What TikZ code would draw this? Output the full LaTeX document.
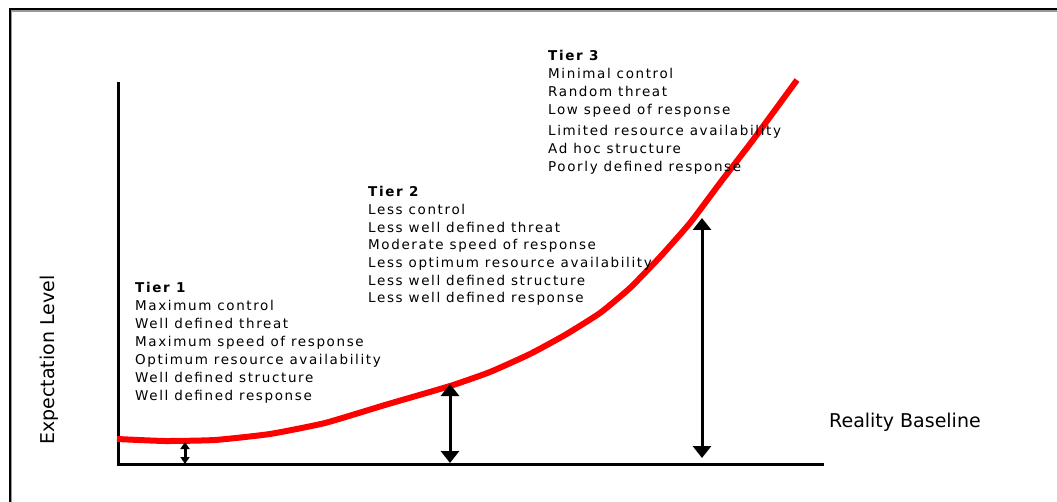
\documentclass[tikz,border=0pt]{standalone}
\usepackage{fontspec}
\setmainfont{DejaVu Sans}
\newfontfamily\tierfont[LetterSpace=12]{DejaVu Sans}
\usetikzlibrary{arrows.meta}
\begin{document}
\begin{tikzpicture}[x=1pt,y=-1pt,
  frameline/.style={line width=2pt,black},
  axisline/.style={line width=3.5pt,black,line cap=rect},
  redcurve/.style={line width=6pt,red,line join=round},
  bigarrow/.style={line width=3pt,black,{Triangle[width=18pt,length=12pt]}-{Triangle[width=18pt,length=12pt]}},
  smallarrow/.style={line width=3pt,black,{Triangle[width=9pt,length=7pt]}-{Triangle[width=9pt,length=7pt]}},
  tiertext/.style={align=left,inner sep=0pt,anchor=base west,font=\tierfont\fontsize{13.5}{18}\selectfont},
  axislabel/.style={inner sep=0pt,font=\fontsize{19}{22}\selectfont}
]
\useasboundingbox (0,0) rectangle (1057,502);
% frame
\draw[line width=1.5pt,black!40] (11,520) -- (11,11.2) -- (1070,11.2);
\draw[frameline] (9.5,520) -- (9.5,9.5) -- (1070,9.5);
% axes
\coordinate (ytop) at (118.5,84);
\coordinate (orig) at (118.5,464.5);
\coordinate (xend) at (822,464.5);
\draw[axisline] (ytop) -- (orig) -- (xend);
% curve
\draw[redcurve] plot[smooth,tension=0.3] coordinates {
 (117,439) (165,441) (215,440) (270,434) (325,423) (385,405) (450,386)
 (490,372) (530,354) (565,335) (600,313) (630,288) (660,257) (690,223)
 (720,183) (753,140) (797,80)};
% arrows
\coordinate (a1t) at (185,442);
\coordinate (a1b) at (185,464);
\coordinate (a2t) at (450,384);
\coordinate (a2b) at (450,463);
\coordinate (a3t) at (702,218);
\coordinate (a3b) at (702,458);
\draw[smallarrow] (a1t) -- (a1b);
\draw[bigarrow] (a2t) -- (a2b);
\draw[bigarrow] (a3t) -- (a3b);
% texts (anchor = baseline of last line)
\node[tiertext] (tier1) at (135,400) {\textbf{Tier 1}\\Maximum control\\Well defined threat\\Maximum speed of response\\Optimum resource availability\\Well defined structure\\Well defined response};
\node[tiertext,font=\tierfont\fontsize{13.5}{17.7}\selectfont] (tier2) at (368,303) {\textbf{Tier 2}\\Less control\\Less well defined threat\\Moderate speed of response\\Less optimum resource availability\\Less well defined structure\\Less well defined response};
\node[tiertext] (tier3) at (548,172) {\textbf{Tier 3}\\Minimal control\\Random threat\\Low speed of response\\[3pt]Limited resource availability\\Ad hoc structure\\Poorly defined response};
\node[axislabel,anchor=west] (xlabel) at (829,422) {Reality Baseline};
\node[axislabel,rotate=90] (ylabel) at (49,360) {Expectation Level};
\end{tikzpicture}
\end{document}
